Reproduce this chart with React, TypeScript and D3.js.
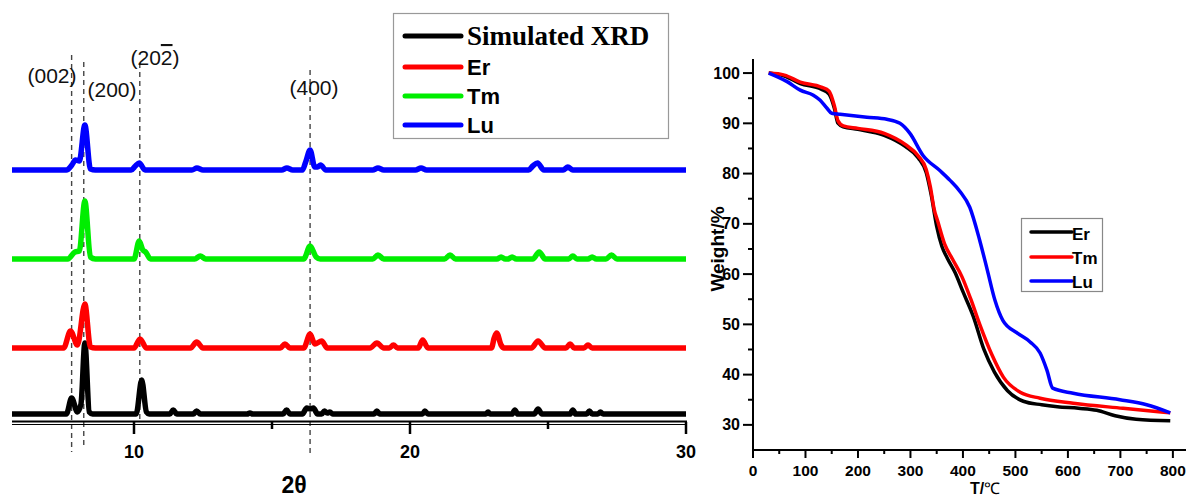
import React from "react";
import * as d3 from "d3";

// ---------- XRD (left panel) ----------
const xrdTicksMajor = [10, 20, 30];
const xrdTicksMinor = [15, 25];
const xrdSeriesNames = ["Simulated XRD", "Er", "Tm", "Lu"];
const xrdColors = ["#000000", "#ff0000", "#00ee00", "#0000ff"];
const xrdOffsets = [0, 66, 155, 244];

const simulatedXRD: [number, number][] = [
  [5.58, 0], [7.55, 0], [7.74, 16], [7.95, 2], [8.08, 10], [8.22, 71], [8.38, 2], [8.5, 0],
  [10.08, 0], [10.28, 34], [10.45, 2], [10.55, 0], [11.3, 0], [11.42, 4], [11.55, 0],
  [12.15, 0], [12.27, 3], [12.4, 0], [14.1, 0], [14.2, 1], [14.3, 0], [15.4, 0], [15.53, 4],
  [15.65, 0], [16.1, 0], [16.26, 6], [16.38, 5], [16.5, 6], [16.65, 0], [16.8, 0], [16.9, 3],
  [17.0, 1], [17.1, 2], [17.2, 0], [18.7, 0], [18.8, 3], [18.9, 0], [20.45, 0], [20.54, 3],
  [20.65, 0], [22.75, 0], [22.83, 2], [22.9, 0], [23.7, 0], [23.8, 4], [23.9, 0], [24.5, 0],
  [24.64, 5], [24.78, 0], [25.8, 0], [25.9, 4], [26.0, 0], [26.4, 0], [26.5, 3], [26.6, 0],
  [26.8, 0], [26.9, 2], [27.0, 0], [30, 0],
];
const erXRD: [number, number][] = [
  [5.58, 0], [7.45, 0], [7.7, 17], [7.95, 3], [8.22, 44], [8.42, 1], [8.6, 0], [10.0, 0],
  [10.22, 9], [10.45, 0], [12.05, 0], [12.27, 6], [12.5, 0], [15.3, 0], [15.47, 4], [15.65, 0],
  [16.15, 0], [16.38, 14], [16.55, 4], [16.8, 7], [17.0, 0], [18.55, 0], [18.8, 5], [19.05, 0],
  [19.25, 0], [19.4, 3], [19.55, 0], [20.3, 0], [20.46, 8], [20.65, 0], [22.95, 0], [23.05, 10],
  [23.14, 15], [23.3, 3], [23.4, 0], [24.4, 0], [24.64, 7], [24.9, 0], [25.65, 0], [25.8, 4],
  [25.95, 0], [26.3, 0], [26.45, 3], [26.6, 0], [30, 0],
];
const tmXRD: [number, number][] = [
  [5.58, 0], [7.6, 0], [7.86, 7], [8.02, 8], [8.22, 58], [8.42, 2], [8.6, 0], [10.0, 0],
  [10.19, 18], [10.32, 9], [10.42, 7], [10.6, 0], [12.2, 0], [12.4, 3], [12.6, 0], [16.15, 0],
  [16.38, 13], [16.6, 2], [16.75, 0], [18.65, 0], [18.84, 4], [19.05, 0], [21.25, 0], [21.45, 4],
  [21.65, 0], [23.15, 0], [23.3, 2], [23.45, 0], [23.55, 0], [23.7, 2], [23.85, 0], [24.45, 0],
  [24.68, 7], [24.9, 0], [25.75, 0], [25.9, 3], [26.05, 0], [26.45, 0], [26.6, 2], [26.75, 0],
  [27.1, 0], [27.3, 4], [27.5, 0], [30, 0],
];
const luXRD: [number, number][] = [
  [5.58, 0], [7.55, 0], [7.75, 5], [7.88, 10], [8.02, 9], [8.22, 45], [8.42, 1], [8.6, 0],
  [9.9, 0], [10.05, 4], [10.19, 7], [10.4, 0], [12.1, 0], [12.28, 2], [12.5, 0], [15.35, 0],
  [15.54, 2], [15.75, 0], [16.1, 0], [16.22, 8], [16.38, 20], [16.55, 3], [16.65, 3], [16.76, 5],
  [16.95, 0], [18.65, 0], [18.84, 2], [19.05, 0], [20.2, 0], [20.4, 2], [20.6, 0], [24.3, 0],
  [24.45, 4], [24.62, 7], [24.85, 0], [25.55, 0], [25.72, 3], [25.9, 0], [30, 0],
];
const xrdSeries = [simulatedXRD, erXRD, tmXRD, luXRD];

const planeLabels = ["(002)", "(200)", "(20", "(400)"];
const planePositions = [7.74, 8.18, 10.21, 16.38];

// ---------- TGA (right panel) ----------
const tgaNames = ["Er", "Tm", "Lu"];
const tgaColors = ["#000000", "#ff0000", "#0000ff"];
const tgaXTicks = [0, 100, 200, 300, 400, 500, 600, 700, 800];
const tgaXMinor = [50, 150, 250, 350, 450, 550, 650, 750];
const tgaYTicks = [30, 40, 50, 60, 70, 80, 90, 100];
const tgaYMinor = [35, 45, 55, 65, 75, 85, 95];

const erTGA: [number, number][] = [
  [30, 100], [60, 99.4], [90, 97.9], [130, 96.8], [145, 95.8], [155, 93], [162, 90], [172, 89.3],
  [200, 88.8], [250, 87.6], [290, 85.4], [315, 83.1], [330, 80.2], [340, 75.5], [350, 69.5],
  [360, 65.5], [370, 63.2], [385, 60.3], [400, 56.5], [420, 51.5], [440, 45], [460, 40.5],
  [485, 36.8], [515, 34.7], [550, 34], [580, 33.6], [620, 33.3], [655, 32.9], [690, 31.8],
  [730, 31.1], [795, 30.8],
];
const tmTGA: [number, number][] = [
  [30, 100], [60, 99.6], [90, 98.2], [130, 97.2], [145, 96.4], [155, 93.5], [162, 90.5],
  [172, 89.5], [200, 89], [250, 88], [290, 85.8], [315, 83.5], [330, 80.8], [338, 77.3],
  [345, 73], [352, 70.5], [365, 66], [380, 63], [398, 59.5], [415, 55], [432, 50], [455, 44],
  [477, 39.5], [509, 36.5], [547, 35.3], [610, 34.3], [705, 33.3], [795, 32.4],
];
const luTGA: [number, number][] = [
  [30, 100], [65, 98.3], [90, 96.6], [115, 95.6], [128, 94.6], [141, 93], [150, 92],
  [166, 91.8], [217, 91.2], [255, 90.8], [280, 90], [299, 88], [324, 83.6], [356, 80.6],
  [375, 78.7], [394, 76.5], [413, 73.3], [432, 66.7], [446, 61], [461, 54.8], [476, 50.8],
  [503, 48.3], [528, 46.5], [547, 44.3], [560, 40.9], [571, 37.3], [610, 36.3], [699, 35],
  [750, 34], [795, 32.4],
];
const tgaSeries = [erTGA, tmTGA, luTGA];

const SANS = "'Liberation Sans', Arial, sans-serif";
const SERIF = "'Liberation Serif', 'Times New Roman', serif";

export default function App() {
  // left panel scales
  const xL = d3.scaleLinear().domain([5.58, 30]).range([12, 686]);
  const yL = d3.scaleLinear().domain([0, 400]).range([414, 14]);
  const axisY = 422;

  // right panel scales
  const xR = d3.scaleLinear().domain([0, 825]).range([753, 1186]);
  const yR = d3.scaleLinear().domain([25, 102.8]).range([450, 59]);

  const tgaLine = d3
    .line<[number, number]>()
    .x((d) => xR(d[0]))
    .y((d) => yR(d[1]))
    .curve(d3.curveMonotoneX);

  const dashTops = [55, 62, 63, 70];
  const dashBottoms = [452, 448, 420, 453];
  const labelPos = [
    { x: 52, y: 83 },
    { x: 112, y: 97 },
    { x: 155, y: 65 },
    { x: 314, y: 95 },
  ];

  return (
    <svg
      width={1189}
      height={499}
      style={{ position: "absolute", left: 0, top: 0, background: "#fff" }}
    >
      <rect x={0} y={0} width={1189} height={499} fill="#fff" />

      {/* ---- XRD panel ---- */}
      {planePositions.map((p, i) => (
        <line
          key={"dash" + i}
          x1={xL(p)}
          x2={xL(p)}
          y1={dashTops[i]}
          y2={dashBottoms[i]}
          stroke="#444"
          strokeWidth={1.4}
          strokeDasharray="5,4"
        />
      ))}

      {xrdSeries.map((s, i) => {
        const off = xrdOffsets[i];
        const gen = d3
          .line<[number, number]>()
          .x((d) => xL(d[0]))
          .y((d) => yL(d[1] + off))
          .curve(d3.curveMonotoneX);
        return (
          <path
            key={"xrd" + i}
            d={gen(s) || ""}
            fill="none"
            stroke={xrdColors[i]}
            strokeWidth={5.5}
            strokeLinejoin="round"
          />
        );
      })}

      {/* plane labels */}
      {planeLabels.map((t, i) => (
        <text
          key={"pl" + i}
          x={labelPos[i].x}
          y={labelPos[i].y}
          textAnchor="middle"
          fontFamily={SANS}
          fontSize={21}
          fill="#111"
        >
          {i === 2 ? (
            <>
              {t}
              <tspan style={{ textDecoration: "overline" }}>2</tspan>)
            </>
          ) : (
            t
          )}
        </text>
      ))}

      {/* XRD axis */}
      <line x1={12} x2={687} y1={axisY - 0.5} y2={axisY - 0.5} stroke="#000" strokeWidth={2} />
      <line x1={12} x2={687} y1={axisY + 2.5} y2={axisY + 2.5} stroke="#000" strokeWidth={1.2} />
      {xrdTicksMajor.map((t) => (
        <g key={"xm" + t}>
          <line x1={xL(t)} x2={xL(t)} y1={axisY} y2={axisY + 12} stroke="#000" strokeWidth={2.5} />
          <text
            x={xL(t)}
            y={458}
            textAnchor="middle"
            fontFamily={SANS}
            fontWeight="bold"
            fontSize={18}
          >
            {t}
          </text>
        </g>
      ))}
      {xrdTicksMinor.map((t) => (
        <line key={"xn" + t} x1={xL(t)} x2={xL(t)} y1={axisY} y2={axisY + 7} stroke="#000" strokeWidth={2.5} />
      ))}
      <text x={294} y={493} textAnchor="middle" fontFamily={SANS} fontWeight="bold" fontSize={23}>
        2θ
      </text>

      {/* XRD legend */}
      <rect x={393.5} y={13.5} width={275} height={125} fill="#fff" stroke="#999" strokeWidth={1.2} />
      {xrdSeriesNames.map((n, i) => {
        const ys = [36, 67, 96, 125];
        const tys = [45, 75, 104, 133];
        return (
          <g key={"lg" + i}>
            <line x1={405} x2={461} y1={ys[i]} y2={ys[i]} stroke={xrdColors[i]} strokeWidth={5} strokeLinecap="round" />
            <text
              x={467}
              y={tys[i]}
              fontFamily={i === 0 ? SERIF : SANS}
              fontWeight="bold"
              fontSize={i === 0 ? 27 : 22}
            >
              {n}
            </text>
          </g>
        );
      })}

      {/* ---- TGA panel ---- */}
      {tgaSeries.map((s, i) => (
        <path
          key={"tga" + i}
          d={tgaLine(s) || ""}
          fill="none"
          stroke={tgaColors[i]}
          strokeWidth={3.5}
          strokeLinejoin="round"
        />
      ))}

      {/* axes */}
      <line x1={753} x2={753} y1={yR(102.8)} y2={451} stroke="#000" strokeWidth={2} />
      <line x1={752} x2={1186} y1={450} y2={450} stroke="#000" strokeWidth={2} />
      {tgaYTicks.map((t) => (
        <g key={"ym" + t}>
          <line x1={743} x2={753} y1={yR(t)} y2={yR(t)} stroke="#000" strokeWidth={2} />
          <text
            x={740}
            y={yR(t) + 5.5}
            textAnchor="end"
            fontFamily={SANS}
            fontWeight="bold"
            fontSize={16}
          >
            {t}
          </text>
        </g>
      ))}
      {tgaYMinor.map((t) => (
        <line key={"yn" + t} x1={748} x2={753} y1={yR(t)} y2={yR(t)} stroke="#000" strokeWidth={2} />
      ))}
      {tgaXTicks.map((t) => (
        <g key={"tx" + t}>
          <line x1={xR(t)} x2={xR(t)} y1={450} y2={458} stroke="#000" strokeWidth={2} />
          <text
            x={xR(t)}
            y={476}
            textAnchor="middle"
            fontFamily={SANS}
            fontWeight="bold"
            fontSize={15.5}
          >
            {t}
          </text>
        </g>
      ))}
      {tgaXMinor.map((t) => (
        <line key={"txn" + t} x1={xR(t)} x2={xR(t)} y1={450} y2={454} stroke="#000" strokeWidth={2} />
      ))}
      <text
        transform="translate(724,249) rotate(-90)"
        textAnchor="middle"
        fontFamily={SANS}
        fontWeight="bold"
        fontSize={19}
      >
        Weight/%
      </text>
      <text x={985} y={494} textAnchor="middle" fontFamily={SANS} fontSize={16}>
        <tspan fontWeight="bold">T/</tspan>
        <tspan>℃</tspan>
      </text>

      {/* TGA legend */}
      <rect x={1021.5} y={218.5} width={81} height={73} fill="#fff" stroke="#888" strokeWidth={1.2} />
      {tgaNames.map((n, i) => {
        const ys = [232, 257, 281];
        const tys = [239, 263, 287];
        return (
          <g key={"tl" + i}>
            <line x1={1031} x2={1072} y1={ys[i]} y2={ys[i]} stroke={tgaColors[i]} strokeWidth={3.5} strokeLinecap="round" />
            <text x={1072} y={tys[i] + 1} fontFamily={SANS} fontWeight="bold" fontSize={17}>
              {n}
            </text>
          </g>
        );
      })}
    </svg>
  );
}
